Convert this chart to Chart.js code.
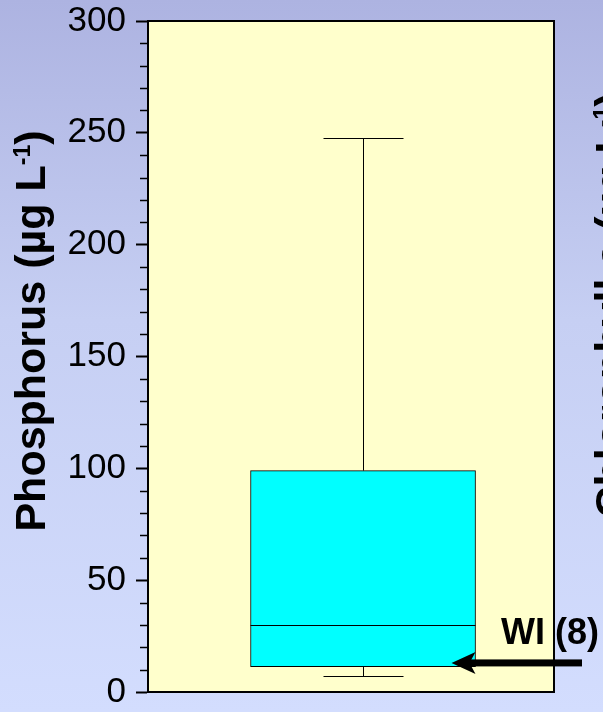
<!DOCTYPE html>
<html>
<head>
<meta charset="utf-8">
<script src="https://cdn.jsdelivr.net/npm/chart.js@4.4.0/dist/chart.umd.min.js"></script>
<style>
  html, body { margin: 0; padding: 0; }
  body {
    width: 603px; height: 712px; overflow: hidden;
    background: linear-gradient(to bottom, #adb3e1 0%, #c6cff3 45%, #d3ddfe 100%);
  }
  .wrap { position: relative; width: 603px; height: 712px; }
</style>
</head>
<body>
<div class="wrap"><canvas id="boxChart"></canvas></div>
<script>
const FONT = '"Liberation Sans", Arial, Helvetica, sans-serif';

// box-plot summary for the single site
const sites = ['WI'];
const whiskerLow = [7];
const q1 = [11.3];
const median = [30];
const q3 = [99];
const whiskerHigh = [247.5];

// value the arrow points at, and its label
const markerValue = 13;
const markerLabel = 'WI (8)';

// y axis ticks
const majorTicks = [0, 50, 100, 150, 200, 250, 300];
const minorTicks = [10, 20, 30, 40, 60, 70, 80, 90, 110, 120, 130, 140,
  160, 170, 180, 190, 210, 220, 230, 240, 260, 270, 280, 290];

// where the box sits along the hidden x scale (0..15)
const boxCentre = 8;

function line(ctx, x1, y1, x2, y2) {
  ctx.beginPath();
  ctx.moveTo(x1, y1);
  ctx.lineTo(x2, y2);
  ctx.stroke();
}

// rotated axis title with a superscript "-1"
function sideTitle(ctx, baseX, centreY, main, sup, tail) {
  ctx.save();
  ctx.translate(baseX, centreY);
  ctx.rotate(-Math.PI / 2);
  ctx.fillStyle = '#000';
  ctx.textAlign = 'left';
  ctx.textBaseline = 'alphabetic';
  const big = 'bold 43px ' + FONT;
  const small = 'bold 23px ' + FONT;
  ctx.font = big;
  const w1 = ctx.measureText(main).width;
  const w3 = ctx.measureText(tail).width;
  ctx.font = small;
  const w2 = ctx.measureText(sup).width;
  let x = -(w1 + w2 + w3) / 2;
  ctx.font = big;
  ctx.fillText(main, x, 0);
  x += w1;
  ctx.font = small;
  ctx.fillText(sup, x, -15);
  x += w2;
  ctx.font = big;
  ctx.fillText(tail, x, 0);
  ctx.restore();
}

const boxPlot = {
  id: 'boxPlot',
  beforeDraw(chart) {
    const { ctx, chartArea: a } = chart;
    ctx.save();
    ctx.fillStyle = '#ffffcc';
    ctx.fillRect(a.left, a.top, a.right - a.left, a.bottom - a.top);
    ctx.restore();
  },
  afterDatasetsDraw(chart) {
    const { ctx, chartArea: a } = chart;
    const y = chart.scales.y;
    const bars = chart.getDatasetMeta(0).data;

    ctx.save();
    ctx.strokeStyle = '#000';
    ctx.lineWidth = 1;
    bars.forEach((bar, i) => {
      const left = bar.x - bar.width / 2;
      const right = bar.x + bar.width / 2;
      const yMed = Math.round(y.getPixelForValue(median[i])) + 0.5;
      line(ctx, left, yMed, right, yMed);

      const cx = Math.round(bar.x) + 0.5;
      const yHi = Math.round(y.getPixelForValue(whiskerHigh[i])) + 0.5;
      const yLo = Math.round(y.getPixelForValue(whiskerLow[i])) + 0.5;
      line(ctx, cx, y.getPixelForValue(q3[i]), cx, yHi);
      line(ctx, cx, y.getPixelForValue(q1[i]), cx, yLo);
      line(ctx, cx - 40, yHi, cx + 40, yHi);
      line(ctx, cx - 40, yLo, cx + 40, yLo);
    });

    // frame round the plot area
    ctx.lineWidth = 2;
    ctx.strokeRect(a.left, a.top, a.right - a.left, a.bottom - a.top);

    // minor ticks on the y axis
    ctx.lineWidth = 1.5;
    minorTicks.forEach(v => {
      const py = Math.round(y.getPixelForValue(v)) + 0.5;
      line(ctx, y.right - 8, py, y.right, py);
    });

    // arrow pointing at the site value
    const bar = bars[0];
    const ay = y.getPixelForValue(markerValue);
    const tip = bar.x + bar.width / 2 - 24;
    const tail = a.right + 28;
    ctx.fillStyle = '#000';
    ctx.fillRect(tip + 17, ay - 3.5, tail - tip - 17, 7);
    ctx.beginPath();
    ctx.moveTo(tip, ay);
    ctx.lineTo(tip + 24, ay - 11);
    ctx.lineTo(tip + 18, ay);
    ctx.lineTo(tip + 24, ay + 11);
    ctx.closePath();
    ctx.fill();

    ctx.font = 'bold 36px ' + FONT;
    ctx.textAlign = 'right';
    ctx.textBaseline = 'alphabetic';
    ctx.fillText(markerLabel, a.right + 45, ay - 19);
    ctx.restore();

    sideTitle(ctx, 45, 331, 'Phosphorus (µg L', '-1', ')');
    sideTitle(ctx, 625, 305, 'Chlorophyll a (µg L', '-1', ')');
  }
};

new Chart(document.getElementById('boxChart'), {
  type: 'bar',
  data: {
    labels: sites,
    datasets: [{
      data: sites.map((s, i) => ({ x: boxCentre, y: [q1[i], q3[i]] })),
      backgroundColor: '#00ffff',
      borderColor: '#000',
      borderWidth: 1,
      borderSkipped: false,
      barThickness: 225
    }]
  },
  options: {
    responsive: true,
    maintainAspectRatio: false,
    animation: false,
    events: [],
    layout: { padding: { left: 0, right: 49, top: 21, bottom: 20 } },
    plugins: { legend: { display: false }, tooltip: { enabled: false } },
    scales: {
      x: { type: 'linear', min: 0, max: 15, display: false },
      y: {
        min: 0,
        max: 300,
        afterBuildTicks: s => { s.ticks = majorTicks.map(v => ({ value: v })); },
        afterFit: s => {
          s.width = 148;
          s.paddingTop = 0;
          s.paddingBottom = 0;
        },
        ticks: { color: '#000', font: { family: FONT, size: 35 }, padding: 10 },
        grid: { drawOnChartArea: false, tickLength: 12, tickColor: '#000', tickWidth: 2 },
        border: { color: '#000', width: 2 }
      }
    }
  },
  plugins: [boxPlot]
});
</script>
</body>
</html>
